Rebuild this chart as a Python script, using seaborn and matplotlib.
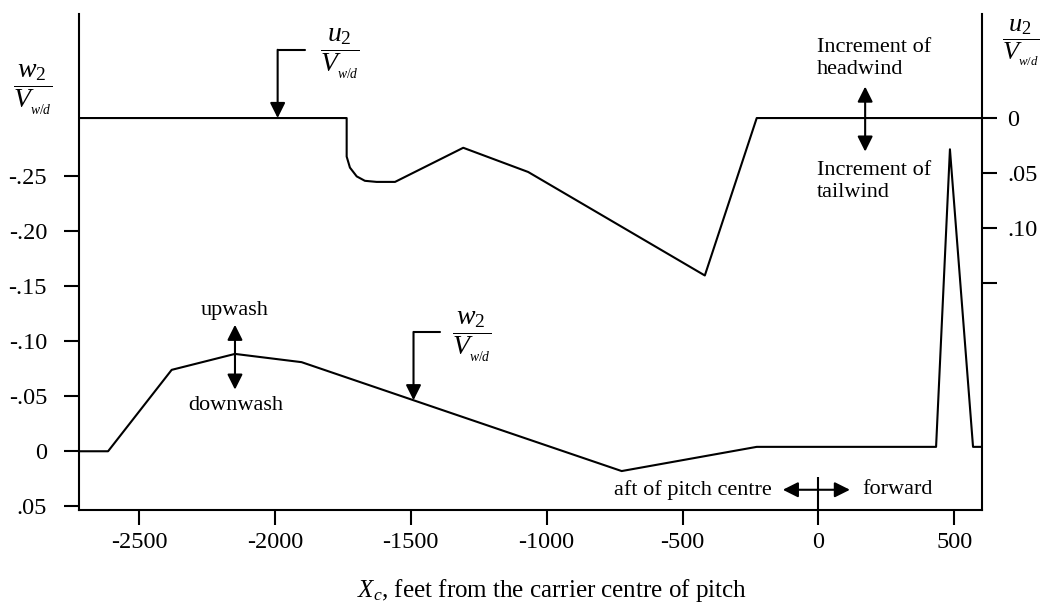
import numpy as np
import matplotlib
matplotlib.use("Agg")
import matplotlib.pyplot as plt
import seaborn as sns

# Longitudinal increment u2/V_w/d (right scale) along the approach, feet from pitch centre
u_x = [-2721, -1736, -1736, -1724, -1699, -1669, -1626, -1558, -1307, -1068, -418, -227, 602]
u_val = [0.0, 0.0, 0.035, 0.045, 0.053, 0.057, 0.058, 0.058, 0.027, 0.049, 0.143, 0.0, 0.0]

# Vertical increment w2/V_w/d (left scale)
w_x = [-2721, -2614, -2380, -2147, -1902, -724, -227, 433, 484, 569, 602]
w_val = [0.0, 0.0, -0.074, -0.0885, -0.081, 0.018, -0.004, -0.004, -0.2745, -0.004, -0.004]

x_ticks = [-2500, -2000, -1500, -1000, -500, 0, 500]
x_tick_labels = ["-2500", "-2000", "-1500", "-1000", "-500", "0", "500"]
w_ticks = [-0.25, -0.20, -0.15, -0.10, -0.05, 0.0, 0.05]
w_tick_labels = ["-.25", "-.20", "-.15", "-.10", "-.05", "0", ".05"]
u_ticks = [0.0, 0.05, 0.10, 0.15]
u_tick_labels = ["0", ".05", ".10", ""]

sns.set_style("ticks")
plt.rcParams.update({
    "font.family": ["Liberation Serif", "DejaVu Serif"],
    "mathtext.fontset": "custom",
    "mathtext.rm": "Liberation Serif",
    "mathtext.it": "Liberation Serif:italic",
    "mathtext.bf": "Liberation Serif:bold",
    "axes.linewidth": 1.5,
    "axes.edgecolor": "black",
    "text.color": "black",
    "xtick.color": "black",
    "ytick.color": "black",
})

W, H = 1045, 607
fig = plt.figure(figsize=(W / 100, H / 100), dpi=100)
fig.patch.set_facecolor("white")
ax = fig.add_axes([79 / W, 1 - 510 / H, (982 - 79) / W, (510 - 14) / H])
ax2 = ax.twinx()

LW = 1.5
sns.lineplot(x=w_x, y=w_val, ax=ax, color="black", linewidth=LW, estimator=None, sort=False)
sns.lineplot(x=u_x, y=u_val, ax=ax2, color="black", linewidth=LW, estimator=None, sort=False)

ax.set_xlim(-2721, 602)
ax.set_ylim(0.0534, -0.3975)
ax2.set_ylim(0.356, -0.0945)

for a in (ax, ax2):
    a.spines["top"].set_visible(False)
    a.set_xlabel("")
    a.set_ylabel("")
ax.spines["right"].set_visible(False)
ax2.spines["left"].set_visible(False)
ax2.spines["bottom"].set_visible(False)

ax.set_xticks(x_ticks)
ax.set_xticklabels(x_tick_labels)
ax.set_yticks(w_ticks)
ax.set_yticklabels(w_tick_labels)
ax2.set_yticks(u_ticks)
ax2.set_yticklabels(u_tick_labels)

ax.tick_params(axis="both", direction="out", length=11, width=LW, labelsize=17.5)
ax.tick_params(axis="y", pad=12)
ax.tick_params(axis="x", pad=5)
ax2.tick_params(axis="y", direction="out", length=11, width=LW, labelsize=17.5, pad=7)

arrow_one = dict(arrowstyle="-|>", color="black", lw=LW, mutation_scale=23, shrinkA=0, shrinkB=0)
arrow_two = dict(arrowstyle="<|-|>", color="black", lw=LW, mutation_scale=23, shrinkA=0, shrinkB=0)
FS = 16
FRAC_FS = 20
U_FRAC = r"$\dfrac{u_2}{V_{_{w/d}}}$"
W_FRAC = r"$\dfrac{w_2}{V_{_{w/d}}}$"

# callout for the u2 curve
bx, by = -1990, -0.062
ax2.plot([bx, -1890], [by, by], color="black", lw=LW)
ax2.annotate("", xy=(bx, np.interp(bx, u_x, u_val)), xytext=(bx, by), arrowprops=arrow_one)
ax2.text(-1760, -0.058, U_FRAC, ha="center", va="center", fontsize=FRAC_FS)

# headwind / tailwind
ax2.annotate("", xy=(172, -0.0286), xytext=(172, 0.0305), arrowprops=arrow_two)
ax2.text(-5, -0.054, "Increment of\nheadwind", ha="left", va="center", fontsize=FS, linespacing=1.2)
ax2.text(-5, 0.0575, "Increment of\ntailwind", ha="left", va="center", fontsize=FS, linespacing=1.2)

# callout for the w2 curve
cx, cy = -1490, -0.1085
ax.plot([cx, -1393], [cy, cy], color="black", lw=LW)
ax.annotate("", xy=(cx, np.interp(cx, w_x, w_val)), xytext=(cx, cy), arrowprops=arrow_one)
ax.text(-1274, -0.104, W_FRAC, ha="center", va="center", fontsize=FRAC_FS)

# upwash / downwash
ax.annotate("", xy=(-2147, -0.115), xytext=(-2147, -0.056), arrowprops=arrow_two)
ax.text(-2147, -0.128, "upwash", ha="center", va="center", fontsize=FS)
ax.text(-2144, -0.042, "downwash", ha="center", va="center", fontsize=FS)

# aft / forward of pitch centre
ax.annotate("", xy=(-131, 0.035), xytext=(116, 0.035), arrowprops=arrow_two)
ax.plot([0, 0], [0.0234, 0.0534], color="black", lw=LW, solid_capstyle="butt")
ax.text(-171, 0.035, "aft of pitch centre", ha="right", va="center", fontsize=FS)
ax.text(160, 0.035, "forward", ha="left", va="center", fontsize=FS)

# axis titles
fig.text(33 / W, 1 - 90 / H, W_FRAC, ha="center", va="center", fontsize=FRAC_FS)
fig.text(1021 / W, 1 - 43 / H, U_FRAC, ha="center", va="center", fontsize=19)
fig.text(552 / W, 1 - 590 / H, r"$X_c$, feet from the carrier centre of pitch",
         ha="center", va="center", fontsize=18)

fig.savefig("out.png", dpi=100, facecolor="white")
